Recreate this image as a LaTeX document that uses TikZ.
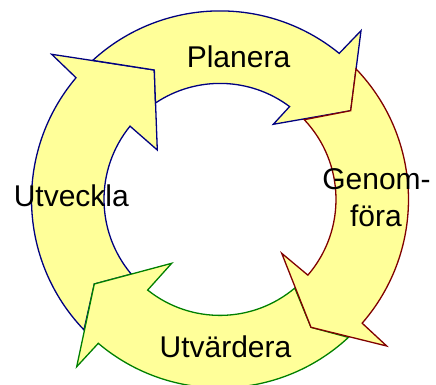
\documentclass[tikz,border=0pt]{standalone}
\usepackage{fontspec}
\setmainfont{Liberation Sans}
\usetikzlibrary{calc}
\definecolor{ringfill}{HTML}{FFFF99}
\definecolor{navyline}{HTML}{000080}
\definecolor{redline}{HTML}{800000}
\definecolor{greenline}{HTML}{008000}
\tikzset{
  segment/.style={fill=ringfill, line width=1.3pt, line join=miter},
  lbl/.style={font=\fontsize{30}{36}\selectfont, inner sep=0pt, anchor=base}
}
\begin{document}
\begin{tikzpicture}[x=1pt, y=1pt]
  \useasboundingbox (0,0) rectangle (436,385);
  \coordinate (c) at (220,185.6);
  % arrow tips
  \coordinate (tipU) at (154.3,315);
  \coordinate (tipP) at (350.7,274.3);
  \coordinate (tipG) at (311,57.7);
  \coordinate (tipV) at (94.3,101);

  % Utveckla (left, pointing up)
  \draw[segment, draw=navyline]
    ($(c)+(223.8:188.5pt)$) arc[start angle=223.8, end angle=139.8, radius=188.5pt]
    -- (51.7,330.7) -- (tipU) -- (157.3,235)
    -- ($(c)+(140.85:116pt)$) arc[start angle=140.85, end angle=220.1, radius=116pt]
    -- (tipV) -- cycle;

  % Planera (top, pointing right)
  \draw[segment, draw=navyline]
    ($(c)+(132.47:188.5pt)$) arc[start angle=132.47, end angle=50.77, radius=188.5pt]
    -- (361,354.3) -- (tipP) -- (273.3,260.7)
    -- ($(c)+(53.14:116pt)$) arc[start angle=53.14, end angle=123.8, radius=116pt]
    -- (tipU) -- cycle;

  % Utvärdera (bottom, pointing left)
  \draw[segment, draw=greenline]
    ($(c)+(-47.06:188.5pt)$) arc[start angle=-47.06, end angle=-130.22, radius=188.5pt]
    -- (76.7,18.3) -- (tipV) -- (171.7,121.7)
    -- ($(c)+(-128.6:116pt)$) arc[start angle=-128.6, end angle=-49.85, radius=116pt]
    -- (tipG) -- cycle;

  % Genomföra (right, pointing down)
  \draw[segment, draw=redline]
    ($(c)+(43.8:188.5pt)$) arc[start angle=43.8, end angle=-41.05, radius=188.5pt]
    -- (386.7,39) -- (tipG) -- (281.7,131.7)
    -- ($(c)+(-40.76:116pt)$) arc[start angle=-40.76, end angle=43.4, radius=116pt]
    -- (tipP) -- cycle;

  % labels
  \node[lbl] (planera) at (238.5,317.7) {Planera};
  \node[lbl] (genom) at (376.5,195) {Genom-};
  \node[lbl] (fora) at (376,158.3) {föra};
  \node[lbl] (utvardera) at (225.5,27.7) {Utvärdera};
  \node[lbl] (utveckla) at (71.3,178.3) {Utveckla};
\end{tikzpicture}
\end{document}
